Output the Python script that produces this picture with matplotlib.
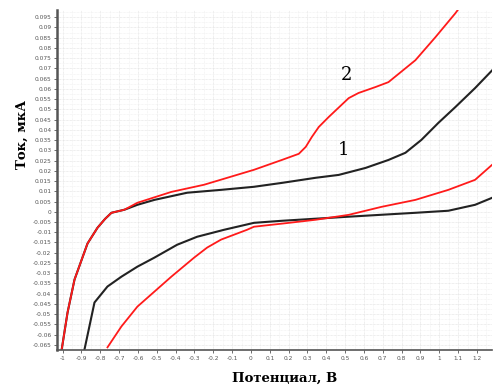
import matplotlib.pyplot as plt
from matplotlib.ticker import MultipleLocator

# forward branch (shared start of curves 1 and 2)
x_start = [-1.005, -0.974, -0.937, -0.899, -0.868, -0.815, -0.775, -0.741, -0.672]
y_start = [-0.0672, -0.0492, -0.0331, -0.0234, -0.0155, -0.0078, -0.0035, -0.0005, 0.001]

# curve 1 (black), forward
x1_up = [-0.603, -0.513, -0.339, -0.159, 0.016, 0.164, 0.344, 0.466, 0.608, 0.73, 0.82,
         0.905, 0.995, 1.085, 1.19, 1.28]
y1_up = [0.0034, 0.0058, 0.0093, 0.0107, 0.0122, 0.0141, 0.0166, 0.018, 0.0214, 0.0253, 0.0288,
         0.0351, 0.0434, 0.0511, 0.0604, 0.069]
# curve 1 (black), reverse
x1_dn = [-0.884, -0.831, -0.762, -0.688, -0.603, -0.513, -0.392, -0.286, -0.143, 0.016, 0.164,
         0.519, 0.873, 1.048, 1.19, 1.28]
y1_dn = [-0.0672, -0.0443, -0.0365, -0.0317, -0.0268, -0.0224, -0.0161, -0.0122, -0.0088, -0.0054,
         -0.0044, -0.0024, -0.0005, 0.0005, 0.0034, 0.0068]

# curve 2 (red), forward
x2_up = [-0.603, -0.423, -0.249, 0.016, 0.164, 0.254, 0.291, 0.323, 0.360, 0.413, 0.519, 0.571,
         0.661, 0.73, 0.873, 0.979, 1.085, 1.11]
y2_up = [0.0044, 0.0097, 0.0132, 0.0205, 0.0253, 0.0283, 0.0317, 0.0365, 0.0414, 0.0463, 0.0555,
         0.058, 0.0609, 0.0633, 0.074, 0.0852, 0.0969, 0.1]
# curve 2 (red), reverse
x2_dn = [-0.762, -0.688, -0.603, -0.513, -0.423, -0.302, -0.233, -0.159, -0.090, -0.021, 0.016,
         0.164, 0.344, 0.519, 0.693, 0.873, 1.048, 1.19, 1.28]
y2_dn = [-0.0662, -0.056, -0.0463, -0.039, -0.0317, -0.0224, -0.0175, -0.0136, -0.0112, -0.0088,
         -0.0073, -0.0058, -0.0039, -0.0015, 0.0024, 0.0058, 0.0107, 0.0156, 0.0229]

fig = plt.figure(figsize=(4.94, 3.85), dpi=100)
ax = fig.add_axes([0.1154, 0.0909, 0.8806, 0.883])

ax.plot(x_start + x1_up, y_start + y1_up, color="#222222", lw=1.5)
ax.plot(x1_dn, y1_dn, color="#222222", lw=1.5)
ax.plot(x_start + x2_up, y_start + y2_up, color="#ff1a1a", lw=1.3)
ax.plot(x2_dn, y2_dn, color="#ff1a1a", lw=1.3)

ax.set_xlim(-1.03, 1.28)
ax.set_ylim(-0.0675, 0.0985)
ax.xaxis.set_minor_locator(MultipleLocator(0.05))
ax.yaxis.set_minor_locator(MultipleLocator(0.0025))
ax.set_xticks([round(-1 + 0.1 * i, 1) for i in range(23)])
ax.set_xticklabels(["-1", "-0.9", "-0.8", "-0.7", "-0.6", "-0.5", "-0.4", "-0.3", "-0.2", "-0.1", "0",
                    "0.1", "0.2", "0.3", "0.4", "0.5", "0.6", "0.7", "0.8", "0.9", "1", "1.1", "1.2"])
yt = [round(-0.065 + 0.005 * i, 3) for i in range(33)]
ax.set_yticks(yt)
ax.set_yticklabels(["0" if v == 0 else ("%g" % v) for v in yt])
ax.tick_params(labelsize=4.2, labelcolor="#555555", length=2, width=0.6, color="#555555", pad=2)
ax.tick_params(which="minor", length=0)

ax.grid(True, which="major", color="#dddddd", lw=0.5, ls=(0, (1, 1)))
ax.grid(True, which="minor", color="#eeeeee", lw=0.5, ls=(0, (1, 1)))
ax.set_axisbelow(True)

for s in ["top", "right"]:
    ax.spines[s].set_visible(False)
ax.spines["left"].set_color("#555555")
ax.spines["left"].set_linewidth(1.8)
ax.spines["bottom"].set_color("#555555")
ax.spines["bottom"].set_linewidth(1.2)

ax.text(0.508, 0.0667, "2", fontsize=13, family="DejaVu Serif", ha="center", va="center")
ax.text(0.49, 0.030, "1", fontsize=13, family="DejaVu Serif", ha="center", va="center")

fig.text(0.045, 0.65, "Ток, мкА", rotation=90, fontsize=9.5, fontweight="bold",
         family="DejaVu Serif", ha="center", va="center")
fig.text(0.577, 0.018, "Потенциал, В", fontsize=9.5, fontweight="bold",
         family="DejaVu Serif", ha="center", va="center")

fig.savefig("out.png", dpi=100)
